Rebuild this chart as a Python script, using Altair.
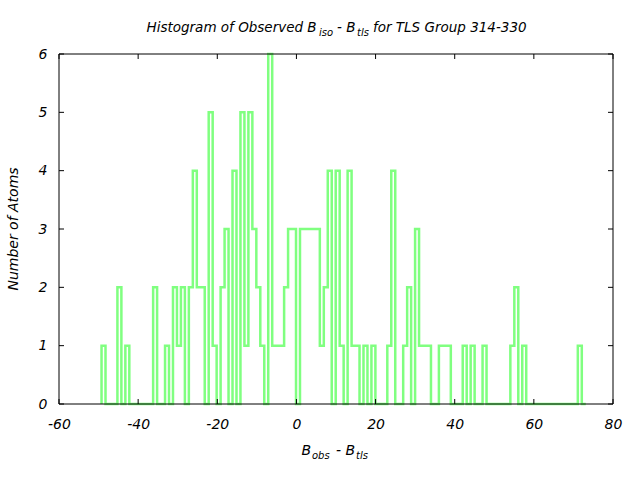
import altair as alt
import pandas as pd

# Histogram counts per bin (bin width ~1 unit)
counts = [1, 0, 0, 0, 2, 0, 1, 0, 0, 0, 0, 0, 0, 2, 0, 0, 1, 0, 2, 1,
          2, 0, 2, 4, 2, 2, 0, 5, 1, 0, 2, 3, 0, 4, 0, 5, 1, 5, 3, 2,
          1, 0, 6, 1, 1, 1, 2, 3, 3, 0, 3, 3, 3, 3, 3, 1, 2, 4, 0, 4,
          1, 0, 4, 1, 1, 0, 1, 0, 1, 0, 0, 0, 1, 4, 0, 0, 1, 2, 0, 3,
          1, 1, 1, 0, 0, 1, 1, 1, 0, 0, 0, 1, 0, 1, 0, 0, 1, 0, 0, 0,
          0, 0, 0, 1, 2, 0, 1, 0, 0, 0, 0, 0, 0, 0, 0, 0, 0, 0, 0, 0,
          1, 0]
bin_start = -49.25
bin_width = 1.003
x_ticks = [-60, -40, -20, 0, 20, 40, 60, 80]
y_ticks = [0, 1, 2, 3, 4, 5, 6]

rows = [{"i": 0, "x": bin_start, "y": 0}]
for k, c in enumerate(counts):
    rows.append({"i": k + 1, "x": bin_start + k * bin_width, "y": c})
rows.append({"i": len(counts) + 1, "x": bin_start + len(counts) * bin_width, "y": 0})
df = pd.DataFrame(rows)

W, H = 554, 350
FONT = "DejaVu Sans"

xscale = alt.Scale(domain=[-60, 80], nice=False, zero=False)
yscale = alt.Scale(domain=[0, 6], nice=False, zero=False)

xaxis = alt.Axis(
    values=x_ticks, title=None, domain=False, ticks=False, grid=False,
    labelFont=FONT, labelFontStyle="italic", labelFontSize=14,
    labelColor="black", labelPadding=13, labelFlush=False, labelOverlap=False,
    labelExpr="datum.value < 0 ? '-' + abs(datum.value) : '' + datum.value")
yaxis = alt.Axis(
    values=y_ticks, title=None, domain=False, ticks=False, grid=False,
    labelFont=FONT, labelFontStyle="italic", labelFontSize=14,
    labelColor="black", labelPadding=12, labelFlush=False, labelOverlap=False)

line = alt.Chart(df).mark_line(
    interpolate="step-after", color="#80ff80", strokeWidth=2.5
).encode(
    x=alt.X("x:Q", scale=xscale, axis=xaxis),
    y=alt.Y("y:Q", scale=yscale, axis=yaxis),
    order="i:Q",
)

tick_x = pd.DataFrame({"x": x_ticks})
tick_y = pd.DataFrame({"y": y_ticks})
TL = 5
xt_bottom = alt.Chart(tick_x).mark_rule(color="black", strokeWidth=1).encode(
    x=alt.X("x:Q", scale=xscale, axis=xaxis), y=alt.value(H), y2=alt.value(H - TL))
xt_top = alt.Chart(tick_x).mark_rule(color="black", strokeWidth=1).encode(
    x=alt.X("x:Q", scale=xscale, axis=xaxis), y=alt.value(0), y2=alt.value(TL))
yt_left = alt.Chart(tick_y).mark_rule(color="black", strokeWidth=1).encode(
    y=alt.Y("y:Q", scale=yscale, axis=yaxis), x=alt.value(0), x2=alt.value(TL))
yt_right = alt.Chart(tick_y).mark_rule(color="black", strokeWidth=1).encode(
    y=alt.Y("y:Q", scale=yscale, axis=yaxis), x=alt.value(W), x2=alt.value(W - TL))

border = alt.Chart(alt.Data(values=[{}])).mark_rect(
    fillOpacity=0, stroke="black", strokeWidth=1
).encode(x=alt.value(0), x2=alt.value(W), y=alt.value(0), y2=alt.value(H))


def txt(s, x, y, size=14, align="left", angle=0, baseline="alphabetic"):
    return alt.Chart(alt.Data(values=[{}])).mark_text(
        text=s, font=FONT, fontStyle="italic", fontSize=size, align=align,
        baseline=baseline, color="black", angle=angle
    ).encode(x=alt.value(x), y=alt.value(y))


texts = [
    txt("Histogram of Observed B", 87.5, -22, 13.5),
    txt("iso", 260, -18, 10),
    txt("- B", 278, -22, 13.5),
    txt("tls", 298, -18, 10),
    txt("for TLS Group 314-330", 314, -22, 13.5),
    txt("B", 242.5, 401),
    txt("obs", 253, 405, 10),
    txt("- B", 277, 401),
    txt("tls", 297, 405, 10),
    txt("Number of Atoms", -45, 175, 14, "center", 270, "middle"),
]

chart = alt.layer(line, xt_bottom, xt_top, yt_left, yt_right, border, *texts).properties(
    width=W, height=H,
    padding={"left": 59, "top": 54, "right": 27, "bottom": 76},
    autosize=alt.AutoSizeParams(type="none"),
    background="white",
).configure_view(stroke=None)

chart.save("out.html", embed_options={"renderer": "svg", "actions": False})
